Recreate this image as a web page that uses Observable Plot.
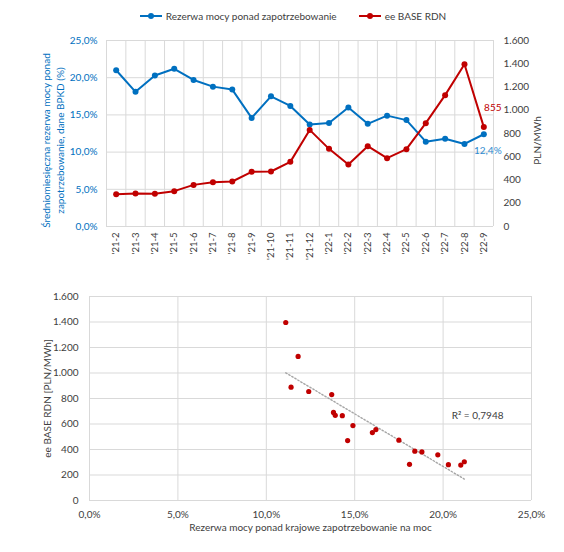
<!DOCTYPE html>
<html><head><meta charset="utf-8">
<script src="https://cdn.jsdelivr.net/npm/d3@7"></script>
<script src="https://cdn.jsdelivr.net/npm/@observablehq/plot@0.6"></script>
<style>
body{margin:0;background:#fff;font-family:Lato,"Open Sans",sans-serif;}
#wrap{position:relative;width:564px;height:552px;overflow:hidden;}
#legend{position:absolute;top:10px;left:0;width:564px;display:flex;justify-content:center;gap:22px;font-size:10px;color:#404040;padding-left:22px;box-sizing:border-box;}
#legend .it{display:flex;align-items:center;gap:4px;}
#top{position:absolute;top:0;left:0;}
#bottom{position:absolute;top:280px;left:0;}
</style></head><body>
<div id="wrap"><div id="top"></div><div id="bottom"></div><div id="legend"></div></div>
<script>
const months = ["'21-2","'21-3","'21-4","'21-5","'21-6","'21-7","'21-8","'21-9","'21-10","'21-11","'21-12","'22-1","'22-2","'22-3","'22-4","'22-5","'22-6","'22-7","'22-8","'22-9"];
const reserve = [21.0, 18.1, 20.3, 21.2, 19.7, 18.8, 18.4, 14.6, 17.5, 16.2, 13.7, 13.9, 16.0, 13.8, 14.9, 14.3, 11.4, 11.8, 11.1, 12.4];
const price = [278, 284, 281, 304, 358, 381, 387, 470, 473, 556, 831, 668, 533, 691, 588, 665, 889, 1130, 1396, 855];
const pctTicks = [0, 5, 10, 15, 20, 25];
const priceTicks = [0, 200, 400, 600, 800, 1000, 1200, 1400, 1600];
const seriesNames = ["Rezerwa mocy ponad zapotrzebowanie", "ee BASE RDN"];
const leftTitle = "Średniomiesięczna rezerwa mocy ponad\nzapotrzebowanie, dane BPKD (%)";
const rightTitle = "PLN/MWh";
const scatterYTitle = "ee BASE RDN [PLN/MWh]";
const scatterXTitle = "Rezerwa mocy ponad krajowe zapotrzebowanie na moc";
const r2Label = "R² = 0,7948";

const BLUE = "#0070C0", RED = "#C00000", GRID = "#D9D9D9", TXT = "#404040";
const PMAX = 1600, PCTMAX = 25;
const locale = d3.formatLocale({decimal: ",", thousands: ".", grouping: [3], currency: ["", ""]});
const fmtK = locale.format(",");
const fmtPct = d => d.toFixed(1).replace(".", ",") + "%";
const toPct = v => v * PCTMAX / PMAX;

const rows = months.map((m, i) => ({i, m, r: reserve[i], p: price[i], ps: toPct(price[i])}));
const last = [rows[rows.length - 1]];
const font = {fontFamily: "Lato, 'Open Sans', sans-serif", fontSize: "10px", color: TXT, background: "white"};

const topChart = Plot.plot({
  width: 564, height: 280, marginTop: 40, marginBottom: 54, marginLeft: 106, marginRight: 71,
  x: {type: "linear", domain: [-0.5, months.length - 0.5]},
  y: {domain: [0, PCTMAX]},
  style: font,
  marks: [
    Plot.gridX(d3.range(-0.5, months.length, 1), {stroke: GRID, strokeOpacity: 1}),
    Plot.gridY(pctTicks, {stroke: GRID, strokeOpacity: 1}),
    Plot.axisX(rows.map(d => d.i), {tickFormat: i => months[i], tickRotate: -90, tickSize: 0, tickPadding: 6, label: null, fontSize: 9.5}),
    Plot.axisY(pctTicks, {tickFormat: fmtPct, tickSize: 0, tickPadding: 9, label: null, fill: BLUE}),
    Plot.axisY(priceTicks.map(toPct), {anchor: "right", tickFormat: d => fmtK(Math.round(d * PMAX / PCTMAX)), tickSize: 0, tickPadding: 10, label: null}),
    Plot.line(rows, {x: "i", y: "r", stroke: BLUE, strokeWidth: 2}),
    Plot.dot(rows, {x: "i", y: "r", fill: BLUE, r: 3}),
    Plot.line(rows, {x: "i", y: "ps", stroke: RED, strokeWidth: 2}),
    Plot.dot(rows, {x: "i", y: "ps", fill: RED, r: 3}),
    Plot.text(last, {x: "i", y: "ps", text: d => String(d.p), fill: RED, dx: 9, dy: -19, fontSize: 10}),
    Plot.text(last, {x: "i", y: "r", text: d => fmtPct(d.r), fill: "#2E8BD0", dx: 4, dy: 17, fontSize: 10}),
    Plot.text([leftTitle], {frameAnchor: "left", textAnchor: "middle", lineAnchor: "middle", rotate: -90, dx: -54, dy: 7, fill: BLUE, fontSize: 10, lineHeight: 1.35}),
    Plot.text([rightTitle], {frameAnchor: "right", textAnchor: "middle", lineAnchor: "middle", rotate: -90, dx: 44, dy: 7, fill: TXT, fontSize: 10})
  ]
});
document.getElementById("top").append(topChart);

const bottomChart = Plot.plot({
  width: 564, height: 272, marginTop: 16, marginBottom: 52, marginLeft: 89, marginRight: 33,
  x: {domain: [0, PCTMAX]},
  y: {domain: [0, PMAX]},
  style: font,
  marks: [
    Plot.gridX(pctTicks, {stroke: GRID, strokeOpacity: 1}),
    Plot.gridY(priceTicks, {stroke: GRID, strokeOpacity: 1}),
    Plot.axisX(pctTicks, {tickFormat: fmtPct, tickSize: 0, tickPadding: 10, label: null}),
    Plot.axisY(priceTicks, {tickFormat: fmtK, tickSize: 0, tickPadding: 11, label: null}),
    Plot.linearRegressionY(rows, {x: "r", y: "p", stroke: "#A6A6A6", strokeWidth: 1.4, strokeDasharray: "1.5,2", ci: 0}),
    Plot.dot(rows, {x: "r", y: "p", fill: RED, r: 2.6}),
    Plot.text([r2Label], {frameAnchor: "right", textAnchor: "end", dx: -28, dy: 17, fill: TXT, fontSize: 10}),
    Plot.text([scatterYTitle], {frameAnchor: "left", textAnchor: "middle", lineAnchor: "middle", rotate: -90, dx: -42, fill: TXT, fontSize: 10}),
    Plot.text([scatterXTitle], {frameAnchor: "bottom", dy: 30, fill: TXT, fontSize: 10})
  ]
});
document.getElementById("bottom").append(bottomChart);

const legend = d3.select("#legend");
[[seriesNames[0], BLUE], [seriesNames[1], RED]].forEach(([name, c]) => {
  const it = legend.append("div").attr("class", "it");
  const s = it.append("svg").attr("width", 22).attr("height", 8);
  s.append("line").attr("x1", 0).attr("x2", 22).attr("y1", 4).attr("y2", 4).attr("stroke", c).attr("stroke-width", 2);
  s.append("circle").attr("cx", 11).attr("cy", 4).attr("r", 3).attr("fill", c);
  it.append("span").text(name);
});
</script>
</body></html>
